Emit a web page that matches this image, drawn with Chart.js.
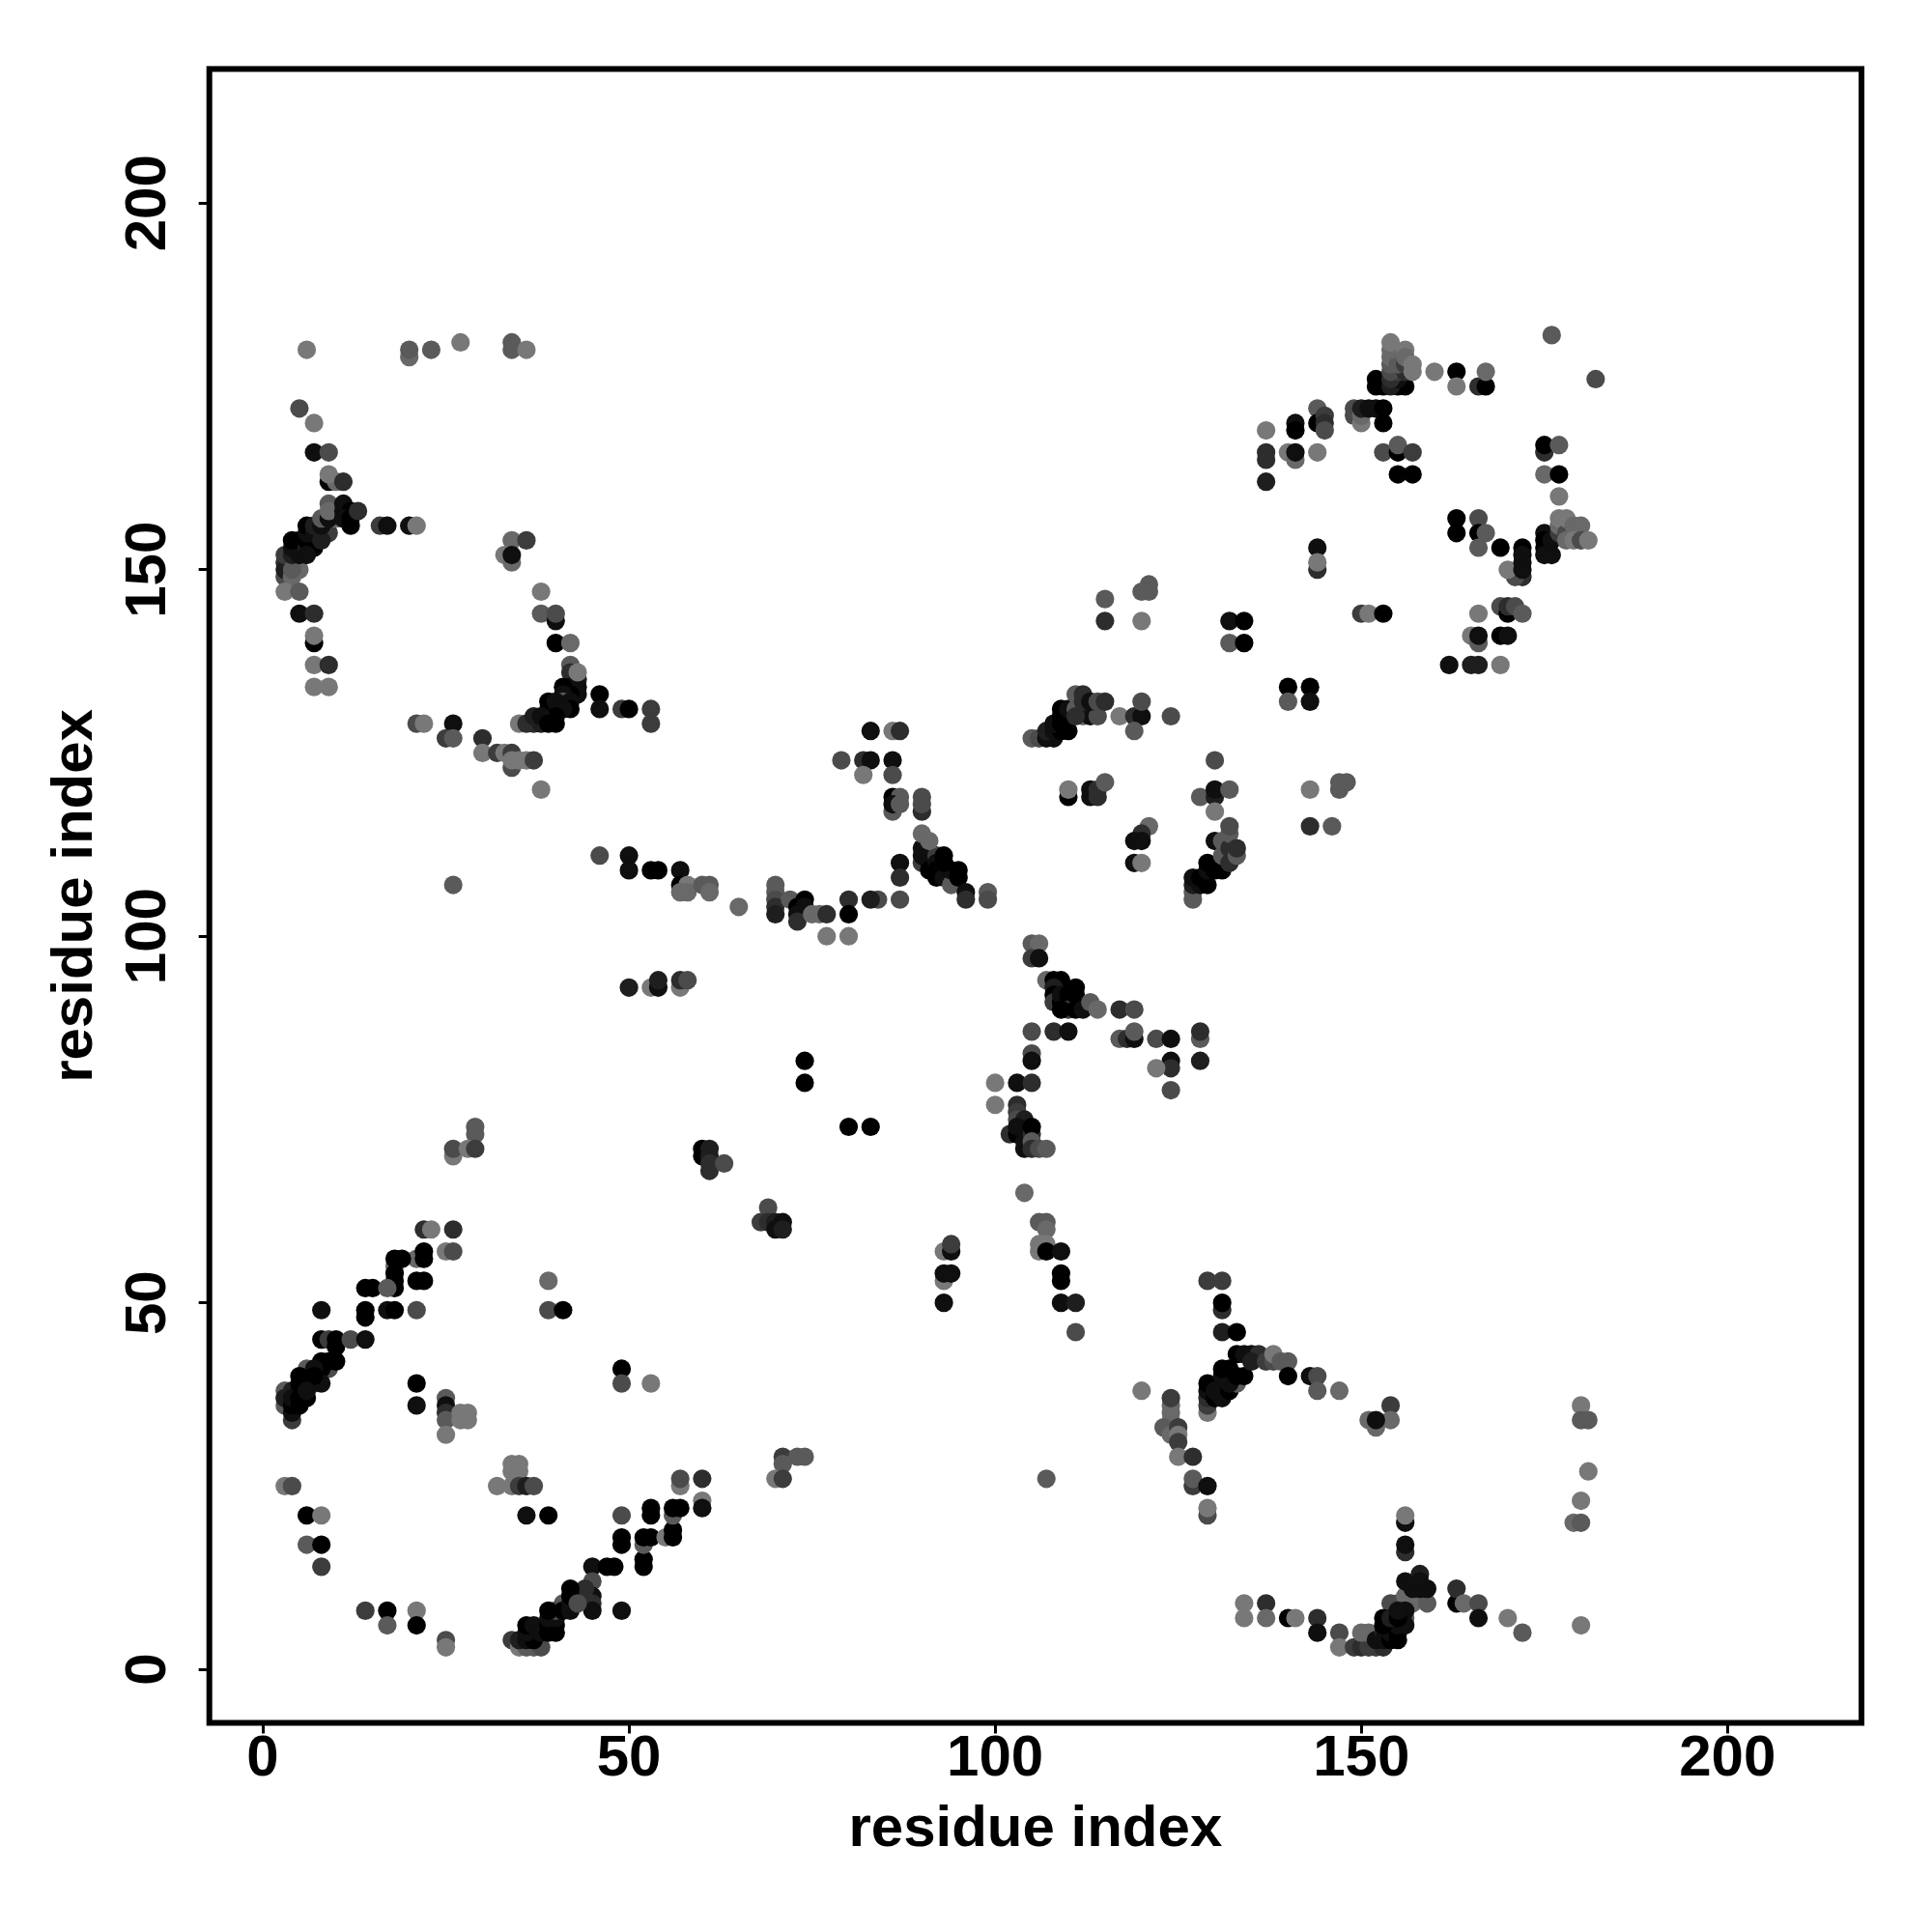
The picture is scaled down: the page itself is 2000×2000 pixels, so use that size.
<!DOCTYPE html>
<html>
<head>
  <meta charset="UTF-8">
  <title>Residue contact map</title>
  <script src="https://cdn.jsdelivr.net/npm/chart.js"></script>
  <style>
    html, body { margin: 0; padding: 0; background: #fff; }
    canvas { display: block; }
  </style>
</head>
<body>
  <canvas id="contactChart" width="2000" height="2000"></canvas>

  <script>
    // each contact is [residue x, residue y, shade], shade 0 = black .. 8 = light gray
    const upperLeft = [
      [6,180,8],[20,179,7],[20,180,6],[23,180,6],[27,181,8],[34,180,6],[34,181,6],[36,180,8],
      [5,172,5],[7,170,8],[7,166,1],[9,166,5],[9,162,0],[10,162,7],[9,163,8],[11,162,3],
      [3,149,5],[3,151,3],[3,150,2],[3,152,4],[4,149,7],[5,150,7],[4,150,6],[3,147,8],[5,147,6],
      [4,152,2],[4,153,1],[5,152,1],[4,154,0],[5,154,0],[6,153,2],[6,154,0],[7,153,0],[6,152,1],
      [6,155,1],[6,156,0],[8,155,6],[9,155,4],[7,155,1],[7,156,2],[8,154,2],[8,156,1],
      [9,159,6],[8,157,6],[10,157,7],[9,157,1],[9,158,7],[11,159,1],[11,158,1],[12,158,0],[11,157,1],[12,157,0],[12,156,0],[13,158,3],
      [5,144,1],[7,144,3],[7,140,0],[7,141,8],[7,137,8],[9,137,3],[7,134,8],[9,134,8],
      [16,156,4],[17,156,1],[20,156,1],[21,156,8],
      [34,154,7],[36,154,4],[33,152,8],[34,151,7],[34,152,1],
      [38,147,8],[38,144,6],[40,143,1],[40,144,5],[40,140,0],[42,140,7],
      [42,137,6],[42,136,3],[43,135,2],[43,134,1],[43,133,1],[42,134,1],[42,133,0],[41,134,0],[41,133,1],[41,132,6],[42,132,1],[43,136,8],
      [39,132,0],[39,131,0],[40,131,0],[40,132,1],[42,131,0],[41,131,1],[40,130,0],[35,129,8],[36,129,3],[37,129,3],[38,129,2],[37,130,2],[38,130,1],[39,129,0],[40,129,0],
      [46,133,0],[46,131,1],[49,131,4],[50,131,0],[53,131,4],[53,129,4],
      [21,129,5],[22,129,8],[26,129,1],[25,127,4],[26,127,6],[30,127,3],[30,125,8],
      [32,125,4],[33,125,8],[34,125,4],[34,123,5],[34,124,8],[35,124,8],[36,124,8],[37,124,4],[38,120,8]
    ];

    const upperMiddle = [
      [115,146,6],[121,148,6],[120,147,6],[121,147,6],[115,143,3],[120,143,8],
      [105,127,6],[106,127,5],[107,127,1],[108,127,1],[107,128,2],[108,128,1],[109,128,0],[110,128,0],[108,129,1],[109,129,0],[109,130,0],[110,130,0],[109,131,0],[110,131,1],
      [111,131,6],[112,130,7],[113,130,1],[111,130,3],[114,130,5],[111,133,6],[112,133,3],[112,132,3],[113,132,1],[114,132,5],[115,132,3],
      [117,130,8],[119,130,3],[120,130,1],[120,132,5],[124,130,5],[119,128,6],
      [110,119,0],[110,120,8],[113,119,1],[113,120,1],[114,119,3],[114,120,3],[115,121,6],
      [83,128,1],[86,128,8],[87,128,3],[79,124,5],[82,124,3],[83,124,1],[86,124,1],[82,122,8],[86,122,5],[86,119,0],[87,119,6],[90,119,5]
    ];

    const upperRight = [
      [176,182,6],[182,176,5],
      [152,175,0],[152,176,0],[153,175,0],[155,175,0],[156,175,0],[154,175,2],[155,176,1],[154,176,3],[155,177,4],[154,177,5],[154,178,6],[156,177,3],
      [154,179,7],[155,178,6],[154,180,7],[154,181,8],[156,178,4],[156,180,8],[156,179,7],[157,177,8],[157,178,8],
      [160,177,8],[163,177,0],[163,175,8],[166,175,3],[167,175,0],[167,177,7],
      [149,172,5],[149,171,5],[150,170,8],[150,171,7],[150,172,2],[151,172,1],[152,172,1],[153,172,0],[153,170,0],
      [144,172,6],[144,170,0],[145,171,4],[145,170,3],[145,169,5],[141,170,1],[141,169,0],
      [137,169,8],[137,166,3],[137,165,3],[137,162,2],[140,166,8],[141,165,7],[141,166,1],[144,166,8],
      [153,166,5],[155,166,0],[155,167,6],[157,166,4],[155,163,0],[157,163,0],
      [175,166,3],[175,167,0],[177,167,6],[175,163,7],[177,163,0],[177,160,8],
      [163,157,0],[163,155,0],[166,157,5],[166,155,0],[167,155,6],[166,153,6],
      [169,153,0],[172,149,3],[171,149,5],[170,150,8],[172,153,0],[172,152,1],[172,151,1],[172,150,1],
      [175,155,1],[175,154,0],[175,153,0],[175,152,1],[176,152,1],[176,154,1],[177,155,4],[177,156,7],[177,157,8],[178,155,5],[178,157,8],[179,156,7],[180,156,7],[178,154,7],[179,154,8],[180,154,5],[181,154,8],
      [144,153,1],[144,150,3],[144,151,8],[150,144,4],[151,144,8],[153,144,0],[166,144,8],
      [169,145,5],[170,144,0],[170,145,3],[171,145,5],[172,144,6],
      [165,141,8],[166,140,6],[166,141,1],[169,141,0],[170,141,1],
      [162,137,1],[165,137,2],[166,137,2],[169,137,8],
      [132,143,1],[134,143,0],[132,140,6],[134,140,0],[140,134,0],[143,134,0],[140,132,6],[143,132,1],
      [130,124,5],[128,119,6],[130,119,2],[130,120,1],[132,120,6],[130,117,8],[143,120,8],[147,120,6],[147,121,6],[148,121,6],[143,115,3],[146,115,6]
    ];

    const middleLeft = [
      [26,107,6],[46,111,5],[50,111,1],[50,109,1],[53,109,0],[54,109,0],[57,109,1],[57,107,0],[58,107,8],[57,106,7],[58,106,7],
      [60,107,6],[61,107,6],[61,106,7],
      [50,93,2],[53,93,8],[54,93,1],[54,94,2],[57,93,8],[57,94,3],[58,94,5],
      [29,74,6],[29,73,6],[26,70,8],[26,71,5],[28,71,8],[29,71,4],
      [22,60,3],[23,60,8],[26,60,3],[25,57,8],[26,57,5],[18,55,7],[21,56,7],[18,56,0],[19,56,0],[22,57,0],[22,56,0]
    ];

    const middleCenter = [
      [86,117,6],[86,118,1],[87,118,6],[90,117,3],[90,118,5],
      [90,110,4],[90,111,1],[90,112,1],[91,110,1],[91,109,0],[92,111,4],[92,110,1],[92,109,0],[92,108,0],[93,110,2],[93,108,1],[94,107,6],[94,109,1],
      [90,114,7],[91,113,7],[93,111,0],[93,110,0],[95,109,0],[95,108,0],
      [87,110,1],[87,108,3],[84,105,5],[83,105,2],[87,105,5],[80,105,3],[80,103,0],[80,100,8],[77,100,8],
      [70,107,6],[70,106,6],[70,105,5],[70,104,3],[70,103,2],[72,105,6],[73,104,0],[74,105,0],[74,104,1],[73,103,1],[73,102,3],
      [75,103,7],[76,103,7],[77,103,3],[65,104,7],
      [96,106,1],[96,105,3],[99,106,6],[99,105,5],
      [105,99,6],[106,99,7],[105,97,4],[106,97,1],
      [107,94,7],[108,94,0],[109,94,0],[108,93,2],[108,92,0],[108,91,4],[109,91,0],[109,92,1],[110,92,0],[110,90,4],[109,90,0],[111,93,0],[111,92,0],[111,90,0],[112,90,1],[113,91,6],[114,90,7],
      [117,90,3],[119,90,5],[105,87,5],[108,87,3],[110,87,1],
      [117,86,6],[118,86,3],[119,86,1],[119,87,6],[122,86,5],[124,86,1],[124,83,1],[124,82,3],[122,82,8],[124,79,5],
      [105,84,5],[105,83,1],[100,80,8],[103,80,1],[105,80,3],[100,77,8],[103,77,3],[103,76,4],[103,75,5],[104,75,2],
      [102,73,3],[103,73,0],[103,74,1],[104,72,1],[105,73,3],[105,74,0],[104,71,1],[105,72,6],[105,71,3],[106,71,5],[107,71,6],
      [74,83,0],[74,80,0],[80,74,0],[83,74,0],
      [60,70,0],[60,71,0],[61,71,2],[61,70,2],[61,69,3],[61,68,3],[63,69,5],
      [69,63,5],[68,61,4],[69,61,3],[70,61,2],[71,61,1],[70,60,1],[71,60,2],
      [104,65,7],[106,61,6],[107,61,6],[107,60,7],[106,58,8],[107,58,8],[106,57,8],[107,57,0],[109,57,1],[109,54,0],[109,53,0],
      [93,57,8],[94,57,1],[94,58,4],[93,53,8],[93,54,1],[94,54,1]
    ];

    const middleRight = [
      [121,115,7],[120,114,3],[119,113,1],[120,113,1],[119,110,1],[120,110,8],
      [127,105,6],[127,106,6],[127,107,2],[127,108,1],[128,107,1],[128,108,0],[129,107,0],[129,109,1],[129,110,0],[130,109,0],[131,109,0],[131,110,0],
      [130,113,1],[131,111,6],[131,113,6],[132,110,3],[132,112,3],[132,114,6],[132,115,5],[133,111,6],[133,112,3],
      [128,86,6],[128,87,3],[128,83,2]
    ];

    const lowerLeft = [
      [18,54,0],[18,53,0],[18,52,0],[21,53,0],[22,53,0],[14,52,0],[15,52,0],[17,52,6],[14,49,0],[14,48,0],[17,49,1],[18,49,0],[21,49,5],
      [8,49,1],[8,45,0],[9,45,4],[10,45,0],[10,44,0],[12,45,5],[14,45,1],
      [6,41,6],[7,39,5],[9,41,5],[8,42,0],[9,42,0],[10,42,0],[8,41,0],[7,41,1],[8,39,1],[7,40,0],
      [3,38,6],[3,36,6],[3,37,2],[4,38,2],[4,34,4],[4,35,1],[4,36,0],[4,37,1],[5,38,1],[5,40,0],[5,39,0],[5,37,0],[5,36,0],[6,37,0],[6,38,1],
      [21,39,0],[21,36,1],[25,37,6],[25,36,1],[25,35,3],[25,34,6],[25,32,8],[27,34,8],[27,35,8],[28,34,8],[28,35,8],
      [39,53,7],[39,49,5],[41,49,0],[49,41,0],[49,39,5],[53,39,8],
      [3,25,8],[4,25,5],[32,25,8],[34,25,8],[34,27,8],[35,27,8],[34,28,8],[35,28,8],[35,25,4],[36,25,2],[37,25,5],
      [36,21,1],[39,21,0],[6,21,0],[8,21,8],[6,17,6],[8,17,0],[8,14,4],
      [14,8,4],[17,8,0],[17,6,6],[21,8,8],[21,6,0],[25,4,5],[25,3,8],
      [49,21,5],[49,18,0],[49,17,0],[45,14,1],[45,12,5],[45,10,1],[45,9,3],[45,8,1],[49,8,1],[44,11,3],
      [47,14,0],[48,14,0],[52,14,0],[52,15,0],[52,17,6],[52,18,0],[53,18,0],[53,21,0],[53,22,0],[55,18,8],[56,18,0],[56,19,0],[56,21,6],[56,22,0],[57,22,0],
      [57,25,8],[57,26,5],
      [34,4,4],[35,3,8],[36,3,6],[37,3,6],[38,3,5],[35,4,2],[36,4,1],[37,4,0],[36,5,1],[36,6,0],[37,6,1],[38,5,1],[39,5,0],[40,5,0],[39,6,0],[40,6,0],[39,7,1],[40,7,1],
      [41,9,6],[40,8,5],[39,8,0],[41,8,0],[42,8,1],[42,9,1],[42,10,0],[42,11,0],[43,9,5]
    ];

    const lowerMiddle = [
      [60,26,3],[60,23,8],[60,22,1],[71,29,4],[73,29,6],[74,29,6],[71,28,6],[70,26,8],[71,26,4],
      [107,26,6],[93,50,1],[109,50,1],[111,50,2],[111,46,5],[120,38,8]
    ];

    const lowerRight = [
      [124,34,8],[124,35,7],[124,36,7],[124,37,4],[123,33,6],[124,32,7],[125,33,4],[125,32,8],[125,31,4],[125,29,8],[127,29,3],
      [127,25,4],[127,26,6],[129,25,1],[129,21,5],[129,22,8],
      [129,53,4],[131,53,4],[131,49,3],[131,50,0],[131,46,2],[133,46,0],
      [129,35,8],[129,36,4],[129,37,3],[129,38,1],[129,39,0],[130,37,0],[130,38,1],[131,37,1],[131,38,1],[132,38,0],[133,39,6],[132,39,1],[131,40,1],[131,41,0],[132,41,0],[133,40,0],[134,40,0],
      [133,43,0],[134,43,1],[135,43,1],[136,43,3],[135,42,2],[137,42,4],[138,42,5],[138,43,8],[139,42,6],[140,42,6],[140,40,0],[143,40,1],[144,40,5],[144,38,6],[147,38,7],
      [154,36,4],[154,34,7],[151,34,7],[152,33,7],[152,34,1],
      [180,36,8],[180,34,6],[181,34,6],[181,27,8],[180,23,8],[179,20,7],[180,20,6],[180,6,8],
      [156,16,3],[156,17,1],[156,20,1],[156,21,8],
      [154,9,5],[155,9,5],[156,7,6],[157,9,7],[159,9,6],[156,10,7],[156,8,1],[156,12,1],[157,11,1],[158,11,1],[159,11,1],[158,13,2],[158,12,1],
      [163,9,0],[163,11,3],[164,9,7],[166,9,5],[166,7,1],[170,7,8],[172,5,6],
      [134,9,8],[134,7,8],[137,9,3],[137,7,7],[140,7,0],[141,7,8],[144,7,3],[144,5,1],[147,5,5],[147,3,8],
      [149,3,4],[150,3,3],[151,3,4],[152,3,4],[153,3,3],[150,5,7],[151,5,7],[152,4,1],[153,5,2],[153,4,1],[154,4,0],[154,5,1],[155,4,0],[155,5,0],[155,6,1],[156,6,1],[153,6,0],[153,7,0],[154,7,2],[155,7,0],[155,8,1]
    ];

    const axisTicks = [0, 50, 100, 150, 200];
    const axisLabel = 'residue index';
    const axisMin = -7.3;
    const axisMax = 218.3;

    const contacts = [].concat(upperLeft, upperMiddle, upperRight, middleLeft, middleCenter, middleRight, lowerLeft, lowerMiddle, lowerRight);

    function shadeColor(s) {
      const g = s * 15;
      return 'rgb(' + g + ',' + g + ',' + g + ')';
    }

    const labelFont = 'bold 60px "Liberation Sans"';

    // frame all round the plot, and the rotated labels of the left axis
    const framePlugin = {
      id: 'frame',
      afterDraw(chart) {
        const ctx = chart.ctx;
        const a = chart.chartArea;
        ctx.save();
        ctx.lineWidth = 6;
        ctx.strokeStyle = '#000';
        ctx.strokeRect(a.left, a.top, a.right - a.left, a.bottom - a.top);
        ctx.fillStyle = '#000';
        ctx.font = labelFont;
        ctx.textAlign = 'center';
        ctx.textBaseline = 'alphabetic';
        axisTicks.forEach(t => {
          ctx.save();
          ctx.translate(171, chart.scales.y.getPixelForValue(t));
          ctx.rotate(-Math.PI / 2);
          ctx.fillText(String(t), 0, 0);
          ctx.restore();
        });
        ctx.restore();
      }
    };

    new Chart(document.getElementById('contactChart').getContext('2d'), {
      type: 'scatter',
      plugins: [framePlugin],
      data: {
        datasets: [{
          data: contacts.map(c => ({ x: c[0], y: c[1] })),
          pointRadius: 9.6,
          pointBorderWidth: 0,
          pointBackgroundColor: contacts.map(c => shadeColor(c[2])),
          showLine: false
        }]
      },
      options: {
        responsive: false,
        animation: false,
        layout: { padding: { top: 71.4, right: 73, left: 0, bottom: 0 } },
        plugins: { legend: { display: false }, tooltip: { enabled: false } },
        scales: {
          x: {
            type: 'linear',
            min: axisMin,
            max: axisMax,
            afterBuildTicks: s => { s.ticks = axisTicks.map(v => ({ value: v })); },
            afterFit: s => { s.height = 216.5; },
            grid: { drawOnChartArea: false, drawTicks: true, tickLength: 11, tickWidth: 3, tickColor: '#000' },
            border: { display: false },
            ticks: { color: '#000', font: { family: 'Liberation Sans', weight: 'bold', size: 60 }, padding: -9, maxRotation: 0, minRotation: 0, autoSkip: false },
            title: { display: true, text: axisLabel, color: '#000', font: { family: 'Liberation Sans', weight: 'bold', size: 60 }, padding: { top: 0, bottom: 70 } }
          },
          y: {
            type: 'linear',
            min: axisMin,
            max: axisMax,
            afterBuildTicks: s => { s.ticks = axisTicks.map(v => ({ value: v })); },
            afterFit: s => { s.width = 216.7; },
            grid: { drawOnChartArea: false, drawTicks: true, tickLength: 11, tickWidth: 3, tickColor: '#000' },
            border: { display: false },
            ticks: { display: false },
            title: { display: true, text: axisLabel, color: '#000', font: { family: 'Liberation Sans', weight: 'bold', size: 60 }, padding: { top: 42, bottom: 0 } }
          }
        }
      }
    });
  </script>
</body>
</html>
